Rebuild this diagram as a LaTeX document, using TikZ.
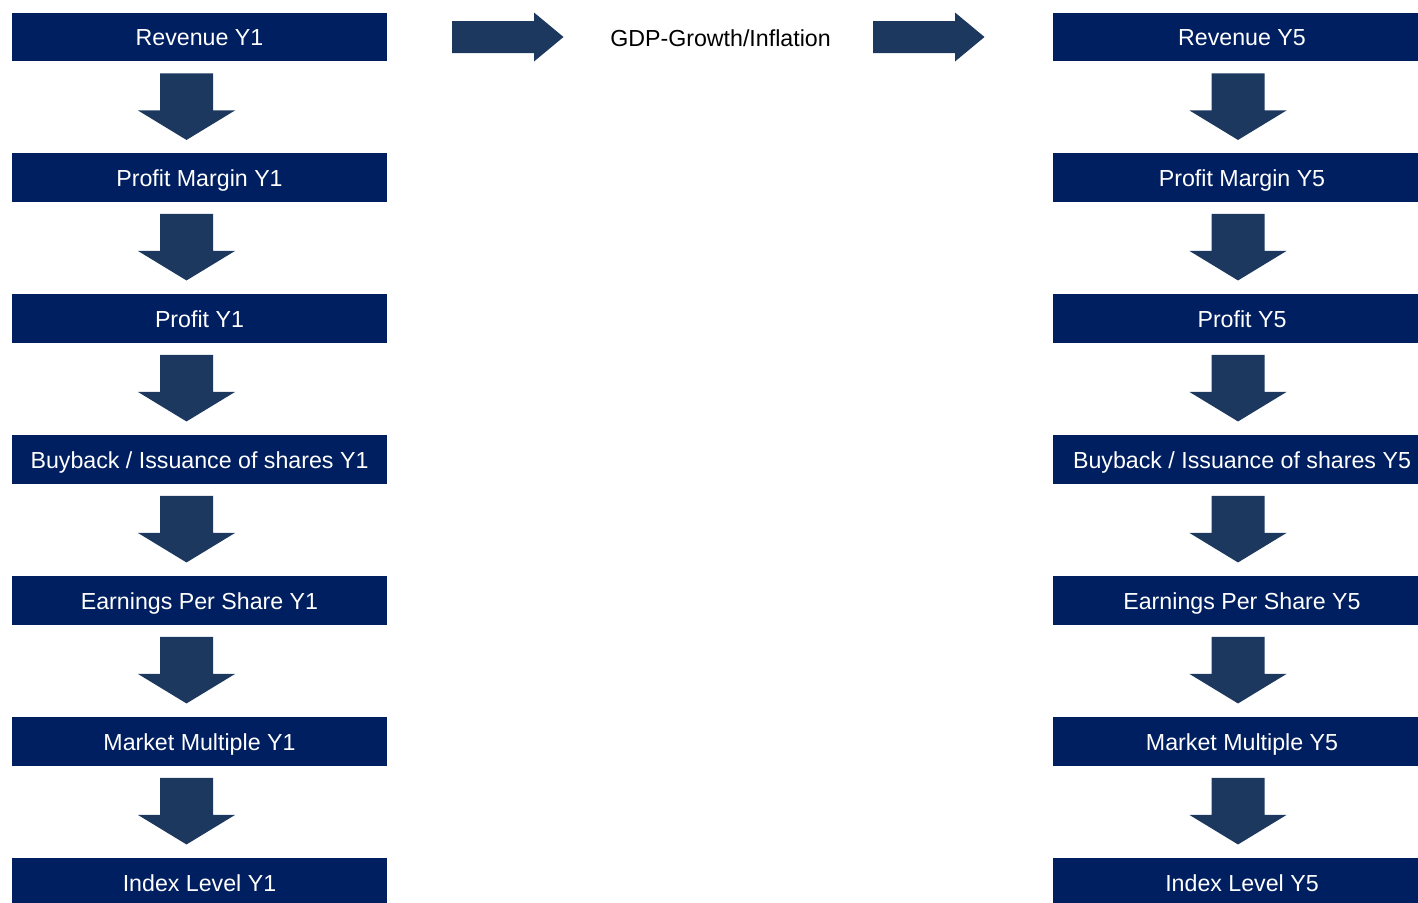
\documentclass[tikz,border=0pt]{standalone}
\usepackage{fontspec}
\setmainfont{Liberation Sans}
\definecolor{boxblue}{RGB}{0,31,96}
\definecolor{arrblue}{RGB}{28,56,94}
\tikzset{
  stagebox/.style={fill=boxblue, text=white, minimum height=48.5pt, inner sep=0pt,
    text height=17pt, text depth=0pt, font=\fontsize{23.2}{27}\selectfont},
  leftbox/.style={stagebox, minimum width=375pt},
  rightbox/.style={stagebox, minimum width=378pt},
  downarr/.pic={\fill[arrblue] (-26.5,0) -- (26.5,0) -- (26.5,37) -- (48.5,37) -- (0,66.5) -- (-48.5,37) -- (-26.5,37) -- cycle;},
  rightarr/.pic={\fill[arrblue] (0,-16) -- (82,-16) -- (82,-24.5) -- (111.5,0) -- (82,24.5) -- (82,16) -- (0,16) -- cycle;}
}
\begin{document}
\begin{tikzpicture}[x=1pt,y=-1pt]
\useasboundingbox (0,0) rectangle (1418,902);
% left column
\node[leftbox] (L1) at (199.5,37)    {Revenue Y1};
\node[leftbox] (L2) at (199.5,177.5) {Profit Margin Y1};
\node[leftbox] (L3) at (199.5,318.5) {Profit Y1};
\node[leftbox] (L4) at (199.5,459.5) {Buyback / Issuance of shares Y1};
\node[leftbox] (L5) at (199.5,600.5) {Earnings Per Share Y1};
\node[leftbox] (L6) at (199.5,741.5) {Market Multiple Y1};
\node[leftbox] (L7) at (199.5,882.5) {Index Level Y1};
% right column
\node[rightbox] (R1) at (1242,37)    {Revenue Y5};
\node[rightbox] (R2) at (1242,177.5) {Profit Margin Y5};
\node[rightbox] (R3) at (1242,318.5) {Profit Y5};
\node[rightbox] (R4) at (1242,459.5) {Buyback / Issuance of shares Y5};
\node[rightbox] (R5) at (1242,600.5) {Earnings Per Share Y5};
\node[rightbox] (R6) at (1242,741.5) {Market Multiple Y5};
\node[rightbox] (R7) at (1242,882.5) {Index Level Y5};
% middle label
\node[font=\fontsize{23.2}{27}\selectfont, inner sep=0pt, text height=17pt, text depth=0pt] (gdp) at (720.5,38) {GDP-Growth/Inflation};
% horizontal arrows
\pic at (452,37) {rightarr};
\pic at (873,37) {rightarr};
% down arrows
\foreach \a in {1,...,6}{
  \pic at ([shift={(-13,12)}]L\a.south) {downarr};
  \pic at ([shift={(-4,12)}]R\a.south) {downarr};
}
\end{tikzpicture}
\end{document}
